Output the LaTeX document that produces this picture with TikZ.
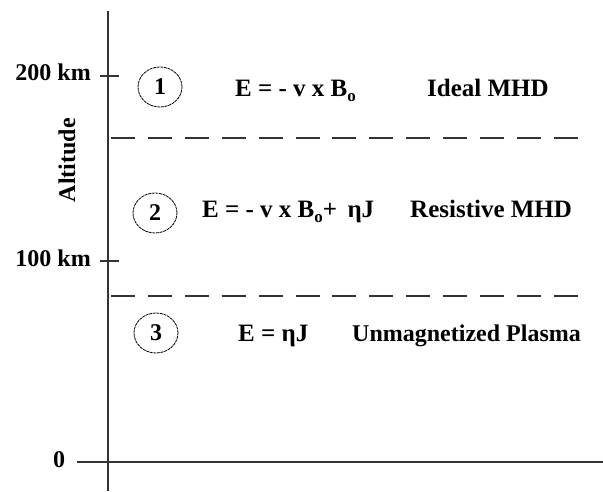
\documentclass[tikz,border=0pt]{standalone}
\usepackage{fontspec}
\setmainfont{Liberation Serif}
\usetikzlibrary{shapes.geometric}
\tikzset{
  axisline/.style={line width=1.6pt, draw=black!80},
  sepline/.style={line width=1.6pt, draw=black!80, dash pattern=on 24pt off 12.9pt},
  numcirc/.style={ellipse, draw=black, line width=0.8pt, dash pattern=on 3pt off 0.7pt, minimum width=44pt, minimum height=40pt, inner sep=0pt, font=\fontsize{24}{26}\bfseries\selectfont},
  txt/.style={inner sep=0pt, font=\fontsize{25}{28}\bfseries\selectfont, anchor=base west},
  lbl/.style={inner sep=0pt, font=\fontsize{24}{28}\bfseries\selectfont}
}
\newcommand{\subo}{\raisebox{-5pt}{\fontsize{17}{17}\selectfont o}}
\begin{document}
\begin{tikzpicture}[x=1pt,y=-1pt]
\useasboundingbox (0,0) rectangle (603,491);
% axes
\coordinate (atop) at (108,11);
\coordinate (abot) at (108,491);
\coordinate (hl) at (77,462);
\coordinate (hr) at (603,462);
\draw[axisline] (atop) -- (abot);
\draw[axisline] (hl) -- (hr);
\coordinate (t2l) at (100,76);
\coordinate (t2r) at (119,76);
\coordinate (t1l) at (100,261);
\coordinate (t1r) at (119,261);
\draw[axisline] (t2l) -- (t2r);
\draw[axisline] (t1l) -- (t1r);
% separators
\coordinate (d1l) at (111,138);
\coordinate (d1r) at (579,138);
\coordinate (d2l) at (111,296);
\coordinate (d2r) at (579,296);
\draw[sepline] (d1l) -- (d1r);
\draw[sepline] (d2l) -- (d2r);
% axis labels
\node[lbl, anchor=base east] (l200) at (91,80) {200 km};
\node[lbl, anchor=base east] (l100) at (91,266) {100 km};
\node[lbl, anchor=base] (l0) at (59,467) {0};
\node[lbl, rotate=90] (alt) at (67,160) {Altitude};
% circles
\node[numcirc] (c1) at (160,87) {1};
\node[numcirc] (c2) at (155,213) {2};
\node[numcirc] (c3) at (156,333) {3};
% equations
\node[txt] (e1) at (235,96) {E = - v x B\subo};
\node[txt] (m1) at (427,96) {Ideal MHD};
\node[txt] (e2) at (202,217) {E = - v x B\subo+ \,ηJ};
\node[txt] (m2) at (410,217) {Resistive MHD};
\node[txt] (e3) at (238,341) {E = ηJ};
\node[txt, font=\fontsize{24}{28}\bfseries\selectfont] (m3) at (352,341) {Unmagnetized Plasma};
\end{tikzpicture}
\end{document}
